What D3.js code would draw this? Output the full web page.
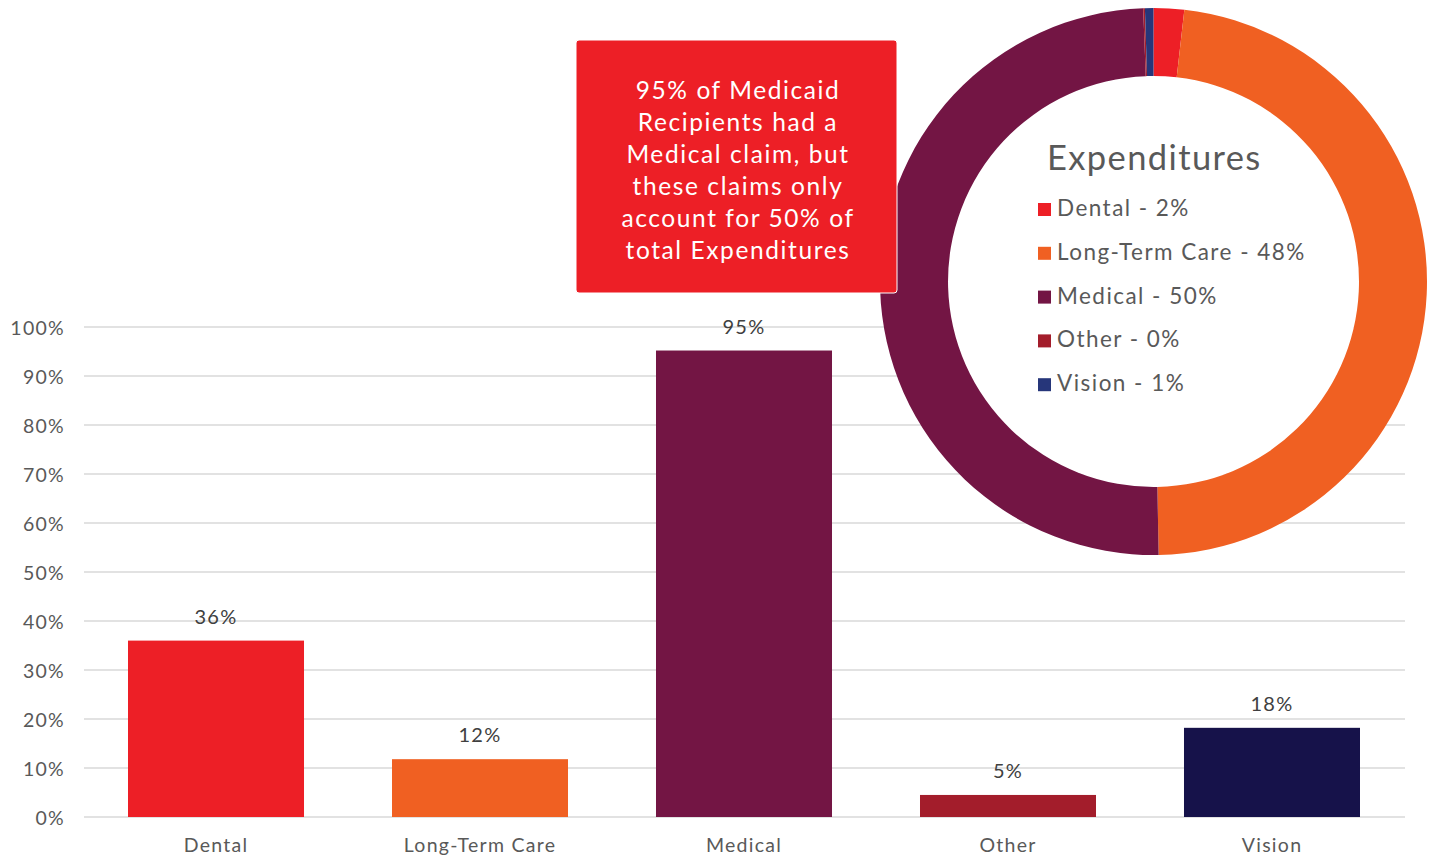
<!DOCTYPE html>
<html>
<head>
<meta charset="utf-8">
<script src="https://cdn.jsdelivr.net/npm/d3@7"></script>
<style>
  html, body { margin: 0; padding: 0; background: #fff; }
  svg { display: block; font-family: Lato, "Open Sans", sans-serif; }
  svg text { letter-spacing: 0.065em; }
  svg text.title { letter-spacing: 0.04em; }
</style>
</head>
<body>
<svg id="chart" width="1434" height="859"></svg>
<script>
// ---- data ----
const categories = ["Dental", "Long-Term Care", "Medical", "Other", "Vision"];
const recipientShare = [36, 11.8, 95.2, 4.5, 18.2];            // % of recipients with a claim
const yTicks = [0, 10, 20, 30, 40, 50, 60, 70, 80, 90, 100];
const expenditureShare = [1.8, 47.9, 49.7, 0.1, 0.5];           // donut slice values
const legendLabels = ["Dental - 2%", "Long-Term Care - 48%", "Medical - 50%", "Other - 0%", "Vision - 1%"];
const barColors = ["#ED1F26", "#F06022", "#731544", "#A31D2B", "#16124A"];
const donutColors = ["#ED1F26", "#F06022", "#731544", "#A31D2B", "#26367A"];
const donutTitle = "Expenditures";
const noteLines = ["95% of Medicaid", "Recipients had a", "Medical claim, but", "these claims only", "account for 50% of", "total Expenditures"];

const svg = d3.select("#chart");
const textColor = "#595959";

// ---- bar chart ----
const x = d3.scaleBand().domain(categories).range([84, 1404]).paddingInner(0.3333).paddingOuter(0.16667);
const y = d3.scaleLinear().domain([0, 100]).range([817, 327]);

const grid = svg.append("g");
grid.selectAll("line").data(yTicks).join("line")
  .attr("x1", 84).attr("x2", 1405)
  .attr("y1", d => y(d)).attr("y2", d => y(d))
  .attr("stroke", "#d9d9d9").attr("stroke-width", 1.6);

const yAxis = d3.axisLeft(y).tickValues(yTicks).tickFormat(d => d + "%").tickSize(0).tickPadding(0);
svg.append("g").attr("transform", "translate(65,0)").call(yAxis)
  .call(g => g.select(".domain").remove())
  .call(g => g.selectAll("text").attr("fill", textColor).attr("font-size", 19.5)
    .attr("font-family", "Lato, 'Open Sans', sans-serif").attr("dy", "0.36em"));

svg.append("g").selectAll("rect").data(categories).join("rect")
  .attr("x", d => x(d)).attr("width", x.bandwidth())
  .attr("y", (d, i) => y(recipientShare[i]))
  .attr("height", (d, i) => y(0) - y(recipientShare[i]))
  .attr("fill", (d, i) => barColors[i]);

const xAxis = d3.axisBottom(x).tickSize(0).tickPadding(0);
svg.append("g").attr("transform", "translate(0,852)").call(xAxis)
  .call(g => g.select(".domain").remove())
  .call(g => g.selectAll("text").attr("fill", textColor).attr("font-size", 19.5)
    .attr("font-family", "Lato, 'Open Sans', sans-serif").attr("dy", 0));

svg.append("g").selectAll("text").data(categories).join("text")
  .attr("x", d => x(d) + x.bandwidth() / 2)
  .attr("y", (d, i) => y(recipientShare[i]) - 17)
  .attr("text-anchor", "middle").attr("fill", "#404040").attr("font-size", 20)
  .text((d, i) => Math.round(recipientShare[i]) + "%");

// ---- donut ----
const cx = 1153.5, cy = 281.5, rOuter = 273.5, rInner = 205.5;
const donut = svg.append("g").attr("transform", `translate(${cx},${cy})`);
donut.append("circle").attr("r", rInner).attr("fill", "#fff");
const pie = d3.pie().sort(null).value(d => d);
const arc = d3.arc().innerRadius(rInner).outerRadius(rOuter);
donut.selectAll("path").data(pie(expenditureShare)).join("path")
  .attr("d", arc).attr("fill", (d, i) => donutColors[i]);

svg.append("text").attr("class", "title").attr("x", 1047).attr("y", 170)
  .attr("fill", textColor).attr("font-size", 34.5).text(donutTitle);

const leg = svg.append("g").selectAll("g").data(legendLabels).join("g")
  .attr("transform", (d, i) => `translate(1038,${216 + i * 43.8})`);
leg.append("rect").attr("x", 0).attr("y", -13).attr("width", 13).attr("height", 13)
  .attr("fill", (d, i) => donutColors[i]);
leg.append("text").attr("x", 19).attr("y", 0).attr("fill", textColor).attr("font-size", 22.5)
  .text(d => d);

// ---- annotation box ----
svg.append("rect").attr("x", 576).attr("y", 40).attr("width", 321).attr("height", 253)
  .attr("rx", 3).attr("fill", "#ED1F26").attr("stroke", "#fff").attr("stroke-width", 1);
svg.append("g").selectAll("text").data(noteLines).join("text")
  .attr("x", 738).attr("y", (d, i) => 99 + i * 32)
  .attr("text-anchor", "middle").attr("fill", "#fff").attr("font-size", 24.5)
  .text(d => d);
</script>
</body>
</html>
